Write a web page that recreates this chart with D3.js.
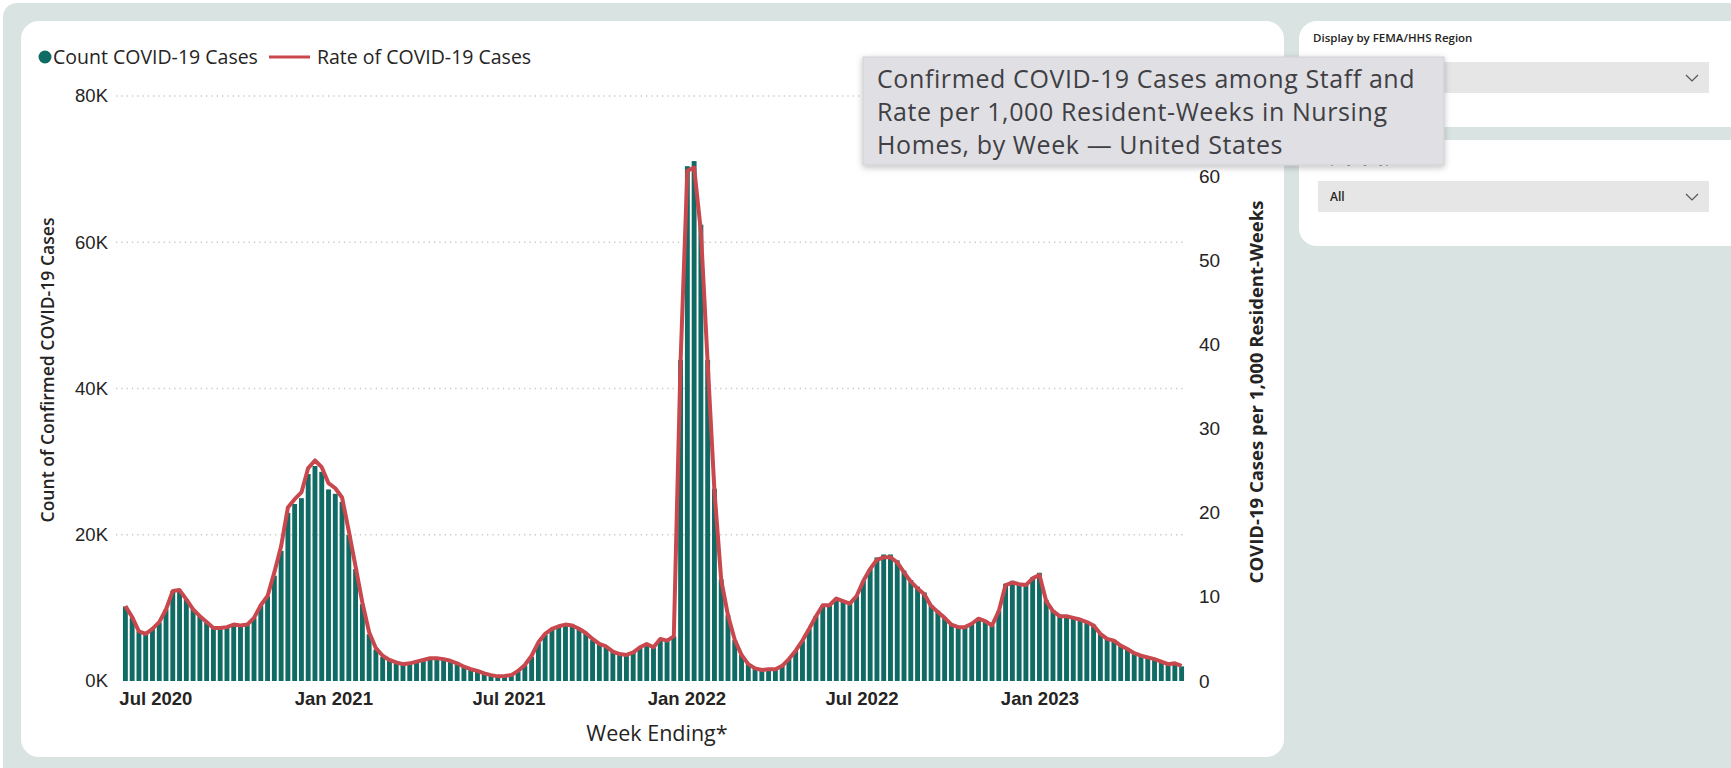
<!DOCTYPE html>
<html lang="en">
<head>
<meta charset="UTF-8" />
<title>Confirmed COVID-19 Cases among Staff</title>
<style>
  body { margin: 0; background: #fff; }
  svg { display: block; font-family: "Open Sans", "Noto Sans", sans-serif; }
</style>
</head>
<body>
<svg id="chart" width="1731" height="768"></svg>
<script src="https://cdn.jsdelivr.net/npm/d3@7"></script>
<script>
// week ending dates, one bar per week
const firstWeek = "2020-05-31";
const lastWeek = "2023-05-28";

// staff confirmed cases per week (count)
const counts = [
  10200, 8700, 6800, 6500, 7100, 8000, 9800, 12300, 12400, 11200,
  9800, 8900, 8000, 7300, 7200, 7400, 7700, 7600, 7700, 8600,
  10300, 11600, 14400, 17800, 23000, 24200, 25000, 28300, 29400, 28600,
  26200, 25600, 24500, 20000, 15300, 10500, 6400, 4300, 3300, 2800,
  2400, 2200, 2300, 2600, 2800, 3000, 3000, 2900, 2700, 2300,
  1900, 1600, 1300, 1000, 800, 600, 650, 800, 1300, 2100,
  3300, 5200, 6300, 7000, 7400, 7600, 7500, 7000, 6500, 5600,
  5000, 4600, 4000, 3600, 3600, 3900, 4600, 5000, 4600, 5700,
  5500, 6100, 43900, 70400, 71100, 62400, 43900, 26300, 13900, 9000,
  5600, 3600, 2300, 1700, 1500, 1600, 1600, 2100, 3000, 4100,
  5500, 7100, 8900, 10300, 10400, 11300, 10900, 10600, 11600, 13700,
  15300, 16900, 17300, 17300, 16500, 15100, 13800, 12900, 12100, 10400,
  9600, 8700, 7800, 7500, 7400, 7900, 8600, 8300, 7600, 9600,
  13300, 13700, 13400, 13300, 14200, 14800, 11100, 9700, 9000, 9000,
  8700, 8500, 8200, 7700, 6500, 5800, 5600, 4900, 4400, 3800,
  3500, 3200, 3000, 2600, 2300, 2400, 2000
];

// staff cases per 1,000 resident-weeks
const rates = [
  8.9, 7.6, 5.9, 5.6, 6.2, 7.0, 8.5, 10.7, 10.8, 9.7,
  8.5, 7.7, 7.0, 6.3, 6.3, 6.4, 6.7, 6.6, 6.7, 7.5,
  9.0, 10.1, 12.9, 16.0, 20.6, 21.6, 22.4, 25.3, 26.2, 25.4,
  23.5, 22.9, 21.8, 17.8, 13.6, 9.3, 5.8, 3.9, 3.0, 2.5,
  2.2, 2.0, 2.1, 2.3, 2.5, 2.7, 2.7, 2.6, 2.4, 2.1,
  1.7, 1.4, 1.2, 0.9, 0.7, 0.55, 0.6, 0.7, 1.2, 1.9,
  3.0, 4.6, 5.6, 6.2, 6.5, 6.7, 6.6, 6.2, 5.7, 5.0,
  4.4, 4.1, 3.5, 3.2, 3.1, 3.4, 4.0, 4.4, 4.0, 5.0,
  4.8, 5.3, 38.0, 60.6, 61.0, 53.4, 37.8, 22.6, 12.0, 7.8,
  4.9, 3.1, 2.0, 1.5, 1.3, 1.4, 1.4, 1.8, 2.6, 3.6,
  4.8, 6.2, 7.7, 9.0, 9.0, 9.8, 9.5, 9.2, 10.1, 11.9,
  13.3, 14.4, 14.7, 14.7, 14.1, 12.9, 11.8, 11.0, 10.3, 8.9,
  8.2, 7.5, 6.7, 6.4, 6.4, 6.8, 7.4, 7.1, 6.6, 8.3,
  11.4, 11.7, 11.5, 11.4, 12.2, 12.6, 9.5, 8.3, 7.7, 7.7,
  7.5, 7.3, 7.0, 6.6, 5.6, 5.0, 4.8, 4.2, 3.8, 3.3,
  3.0, 2.8, 2.6, 2.3, 2.0, 2.1, 1.8
];

const countTicks = [0, 20000, 40000, 60000, 80000];
const rateTicks = [0, 10, 20, 30, 40, 50, 60];
const monthTicks = ["2020-07-01", "2021-01-01", "2021-07-01", "2022-01-01", "2022-07-01", "2023-01-01"];

const legendItems = ["Count COVID-19 Cases", "Rate of COVID-19 Cases"];
const tooltipLines = [
  "Confirmed COVID-19 Cases among Staff and",
  "Rate per 1,000 Resident-Weeks in Nursing",
  "Homes, by Week \u2014 United States"
];

const parse = d3.timeParse("%Y-%m-%d");
const weeks = d3.timeWeek.range(parse(firstWeek), d3.timeDay.offset(parse(lastWeek), 1));
const data = weeks.map((d, i) => ({ date: d, count: counts[i], rate: rates[i] }));

const svg = d3.select("#chart");
const teal = "#0f6b63";
const red = "#c8484e";

// backgrounds
svg.append("rect").attr("x", 3).attr("y", 3).attr("width", 1740).attr("height", 780)
  .attr("rx", 14).attr("fill", "#d9e4e2");
svg.append("rect").attr("x", 21).attr("y", 21).attr("width", 1263).attr("height", 736)
  .attr("rx", 18).attr("fill", "#fff");

// slicer panels on the right
const panels = [
  { y: 21, h: 106, ty: 42, title: "Display by FEMA/HHS Region", value: "" },
  { y: 140, h: 106, ty: 163, title: "Display by Type", value: "All" }
];
panels.forEach(p => {
  const g = svg.append("g");
  g.append("rect").attr("x", 1299).attr("y", p.y).attr("width", 450).attr("height", p.h)
    .attr("rx", 18).attr("fill", "#fff");
  g.append("text").attr("x", 1313).attr("y", p.ty).attr("font-size", 11.5)
    .attr("font-weight", 600).attr("fill", "#252423").text(p.title);
  g.append("rect").attr("x", 1318).attr("y", p.y + 41).attr("width", 391).attr("height", 31)
    .attr("fill", "#e6e6e6");
  g.append("text").attr("x", 1330).attr("y", p.y + 61).attr("font-size", 12)
    .attr("font-weight", 600).attr("fill", "#252423").text(p.value);
  g.append("path").attr("d", `M1686,${p.y + 54} l6,6 l6,-6`).attr("fill", "none")
    .attr("stroke", "#555").attr("stroke-width", 1.2);
});

// scales
const x = d3.scaleTime()
  .domain([d3.timeHour.offset(weeks[0], -84), d3.timeHour.offset(weeks[weeks.length - 1], 84)])
  .range([122, 1185]);
const y = d3.scaleLinear().domain([0, 80000]).range([681, 96]);
const yR = d3.scaleLinear().domain([0, 69.5]).range([681, 96]);
const step = x(weeks[1]) - x(weeks[0]);
const bw = step * 0.72;

// gridlines
svg.append("g").selectAll("line").data(countTicks.filter(d => d > 0)).join("line")
  .attr("x1", 116).attr("x2", 1185).attr("y1", d => y(d)).attr("y2", d => y(d))
  .attr("stroke", "#c9c9c9").attr("stroke-width", 1.3).attr("stroke-dasharray", "1.3,4");

// bars
svg.append("g").selectAll("rect").data(data).join("rect")
  .attr("x", d => x(d.date) - bw / 2).attr("width", bw)
  .attr("y", d => y(d.count)).attr("height", d => y(0) - y(d.count))
  .attr("fill", teal);

// rate line
svg.append("path").datum(data)
  .attr("fill", "none").attr("stroke", red).attr("stroke-width", 4)
  .attr("stroke-linejoin", "round")
  .attr("d", d3.line().x(d => x(d.date)).y(d => yR(d.rate)));

// axes
const fmtK = d => d3.format("d")(d / 1000) + "K";
const leftAxis = svg.append("g").attr("transform", "translate(108,0)")
  .call(d3.axisLeft(y).tickValues(countTicks).tickFormat(fmtK).tickSize(0).tickPadding(0));
const rightAxis = svg.append("g").attr("transform", "translate(1199,0)")
  .call(d3.axisRight(yR).tickValues(rateTicks).tickSize(0).tickPadding(0));
const bottomAxis = svg.append("g").attr("transform", "translate(0,689)")
  .call(d3.axisBottom(x).tickValues(monthTicks.map(parse)).tickFormat(d3.timeFormat("%b %Y"))
    .tickSize(0).tickPadding(0));
[leftAxis, rightAxis, bottomAxis].forEach(a => {
  a.select(".domain").remove();
  a.selectAll("text").attr("fill", "#252423").attr("font-family", "inherit");
});
leftAxis.selectAll("text").attr("font-size", 18.5);
rightAxis.selectAll("text").attr("font-size", 19);
bottomAxis.selectAll("text").attr("font-size", 18.5).attr("font-weight", 700).attr("dy", "0.85em");

// axis titles
svg.append("text").attr("transform", "translate(54,370) rotate(-90)")
  .attr("text-anchor", "middle").attr("font-size", 17.6).attr("font-weight", 600)
  .attr("fill", "#252423").text("Count of Confirmed COVID-19 Cases");
svg.append("text").attr("transform", "translate(1263,392) rotate(-90)")
  .attr("text-anchor", "middle").attr("font-size", 18.5).attr("font-weight", 700)
  .attr("fill", "#252423").text("COVID-19 Cases per 1,000 Resident-Weeks");
svg.append("text").attr("x", 657).attr("y", 741).attr("text-anchor", "middle")
  .attr("font-size", 21.5).attr("fill", "#252423").text("Week Ending*");

// legend
const lg = svg.append("g").attr("font-size", 19.5).attr("fill", "#252423");
lg.append("circle").attr("cx", 45).attr("cy", 57).attr("r", 6.5).attr("fill", teal);
lg.append("text").attr("x", 53).attr("y", 64).text(legendItems[0]);
lg.append("line").attr("x1", 269).attr("x2", 310).attr("y1", 57).attr("y2", 57)
  .attr("stroke", red).attr("stroke-width", 3);
lg.append("text").attr("x", 317).attr("y", 64).text(legendItems[1]);

// title tooltip box
const defs = svg.append("defs");
const f = defs.append("filter").attr("id", "shadow").attr("x", "-10%").attr("y", "-10%")
  .attr("width", "120%").attr("height", "140%");
f.append("feDropShadow").attr("dx", 0).attr("dy", 2).attr("stdDeviation", 3)
  .attr("flood-color", "#000").attr("flood-opacity", 0.25);
svg.append("rect").attr("x", 863).attr("y", 57).attr("width", 581).attr("height", 108)
  .attr("fill", "#e0dfe4").attr("stroke", "#cfcfd3").attr("filter", "url(#shadow)");
svg.append("g").selectAll("text").data(tooltipLines).join("text")
  .attr("x", 877).attr("y", (d, i) => 88 + i * 33)
  .attr("font-size", 25).attr("letter-spacing", 0.6).attr("fill", "#3f3f44")
  .text(d => d);
</script>
</body>
</html>
